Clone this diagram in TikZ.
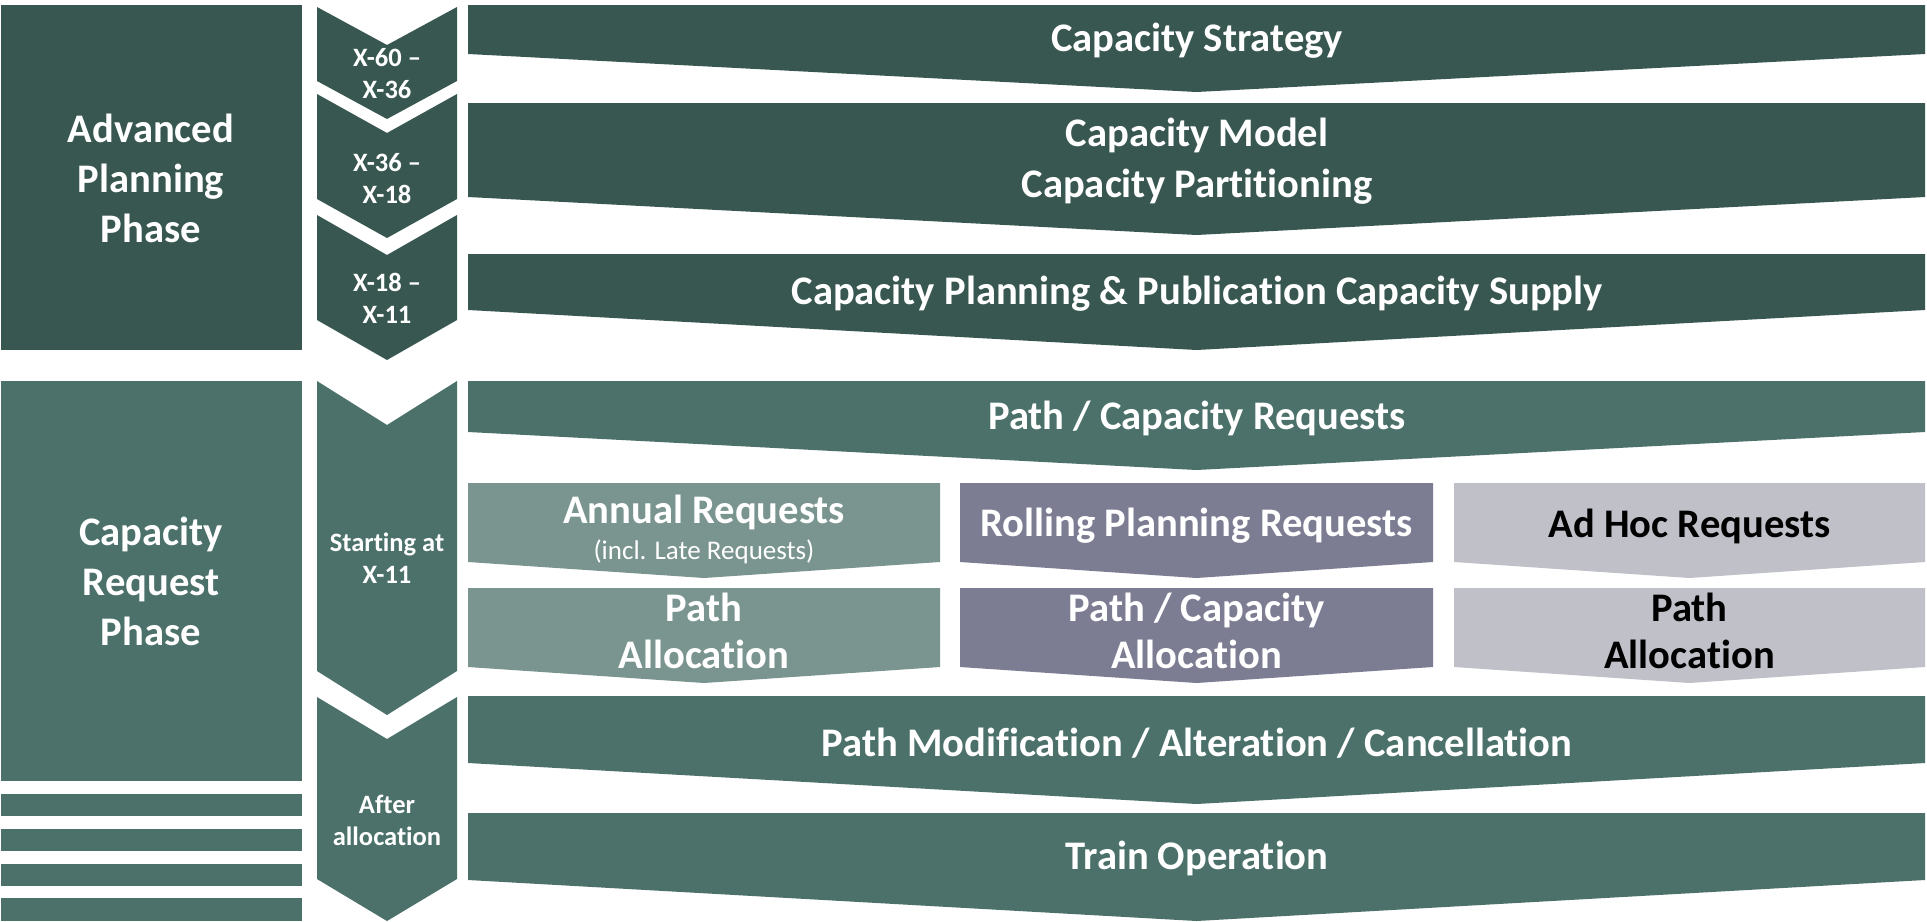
\documentclass[tikz,border=0pt]{standalone}
\usepackage{fontspec}
\setmainfont{Carlito}[Ligatures={NoCommon}]
\definecolor{dk}{HTML}{385750}
\definecolor{tl}{HTML}{4B716A}
\definecolor{ann}{HTML}{7A958F}
\definecolor{rol}{HTML}{7C7C93}
\definecolor{adh}{HTML}{C0C1C8}
\newcommand{\vchev}[4]{\fill[#1] (317,#2) -- (387,#2+#4) -- (457,#2) -- (457,#3-#4) -- (387,#3) -- (317,#3-#4) -- cycle;}
\newcommand{\flowbar}[6]{\fill[#1] (#2,#4) -- (#3,#4) -- (#3,#5) -- ({(#2+#3)/2},#6) -- (#2,#5) -- cycle;}
\begin{document}
\begin{tikzpicture}[x=1pt,y=-1pt,
  big/.style={text=white,font=\bfseries\fontsize{40.6}{50}\selectfont,align=center,inner sep=0pt},
  sub/.style={text=white,font=\bfseries\fontsize{40.6}{47}\selectfont,align=center,inner sep=0pt},
  small/.style={text=white,font=\fontsize{27}{30}\selectfont,align=center,inner sep=0pt},
  chevtxt/.style={text=white,font=\bfseries\fontsize{26.5}{32}\selectfont,align=center,inner sep=0pt}]
\fill[white] (0,0) rectangle (1927,921);
\useasboundingbox (0,0) rectangle (1927,921);
% left phase boxes
\fill[dk] (1,5) rectangle (302,350);
\fill[tl] (1,381) rectangle (302,781);
\fill[tl] (1,794) rectangle (302,816);
\fill[tl] (1,829) rectangle (302,851);
\fill[tl] (1,864) rectangle (302,886);
\fill[tl] (1,898) rectangle (302,921);
% chevron column
\vchev{dk}{7}{119}{38}
\vchev{dk}{94}{238}{39}
\vchev{dk}{215}{360}{40}
\vchev{tl}{381}{715}{44}
\vchev{tl}{697}{921}{42}
% main bars
\flowbar{dk}{468}{1925}{5}{54}{92}
\flowbar{dk}{468}{1925}{103}{197}{235}
\flowbar{dk}{468}{1925}{254}{310}{350}
\flowbar{tl}{468}{1925}{381}{432}{470}
\flowbar{tl}{468}{1925}{696}{763}{804}
\flowbar{tl}{468}{1925}{813}{880}{921}
% sub boxes
\flowbar{ann}{468}{940}{483}{562}{578}
\flowbar{rol}{960}{1433}{483}{562}{578}
\flowbar{adh}{1454}{1925}{483}{562}{578}
\flowbar{ann}{468}{940}{588}{667}{683}
\flowbar{rol}{960}{1433}{588}{667}{683}
\flowbar{adh}{1454}{1925}{588}{667}{683}
% texts
\node[big] (adv) at (151,178) {Advanced\\Planning\\Phase};
\node[big] (crp) at (151,581) {Capacity\\Request\\Phase};
\node[chevtxt] (c1) at (387,74) {X-60 –\\X-36};
\node[chevtxt] (c2) at (387,179) {X-36 –\\X-18};
\node[chevtxt] (c3) at (387,298) {X-18 –\\X-11};
\node[chevtxt] (c4) at (387,558) {Starting at\\X-11};
\node[chevtxt] (c5) at (387,820) {After\\allocation};
\node[big] (b1) at (1197,41) {Capacity Strategy};
\node[big,font=\bfseries\fontsize{40.6}{51}\selectfont] (b2) at (1197,161) {Capacity Model\\Capacity Partitioning};
\node[big] (b3) at (1197,294) {Capacity Planning \& Publication Capacity Supply};
\node[big] (b4) at (1197,418) {Path / Capacity Requests};
\node[big] (b5) at (1197,743) {Path Modification / Alteration / Cancellation};
\node[big] (b6) at (1197,858) {Train Operation};
\node[sub] (a1) at (704,512) {Annual Requests};
\node[small] (a1s) at (704,552) {(incl. Late Requests)};
\node[sub] (r1) at (1196.5,526) {Rolling Planning Requests};
\node[sub,text=black] (h1) at (1689.5,526) {Ad Hoc Requests};
\node[sub] (a2) at (704,631) {Path\\Allocation};
\node[sub] (r2) at (1196.5,631) {Path / Capacity\\Allocation};
\node[sub,text=black] (h2) at (1689.5,631) {Path\\Allocation};
\end{tikzpicture}
\end{document}
